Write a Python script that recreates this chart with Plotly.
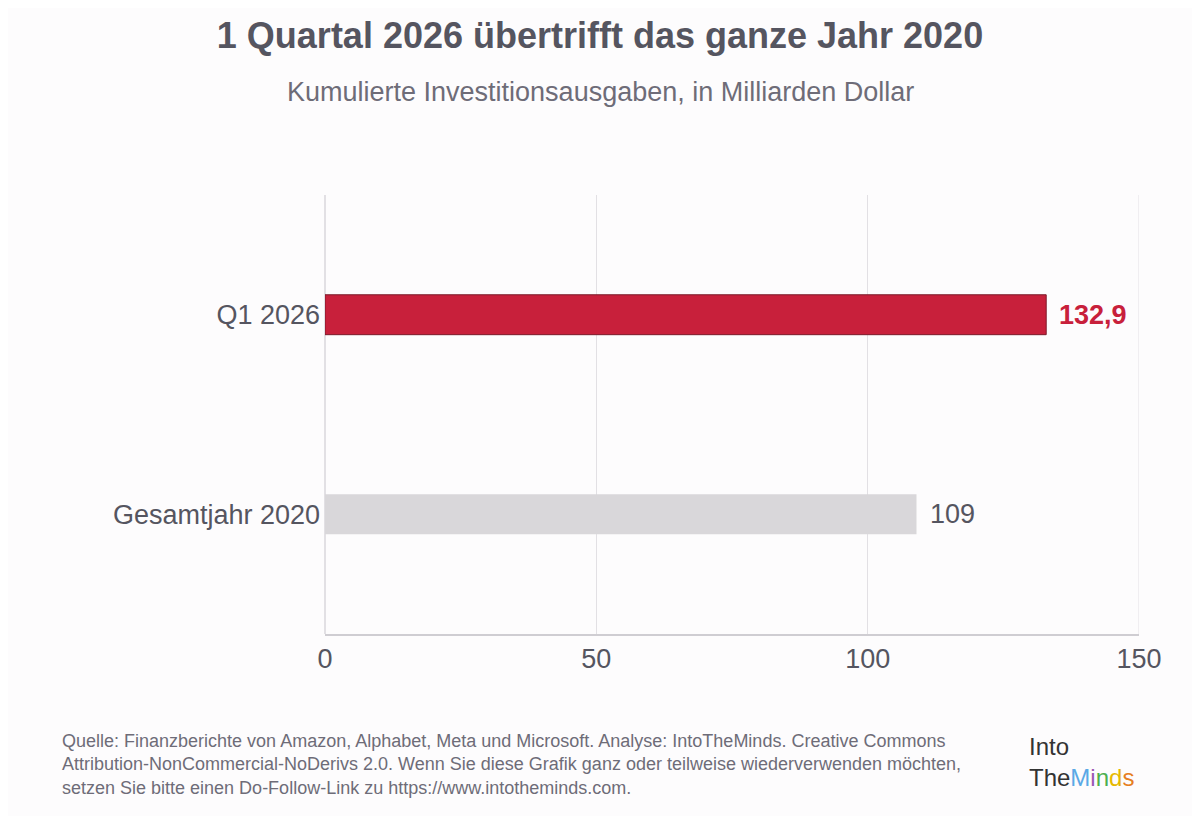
import plotly.graph_objects as go

categories = ["Gesamtjahr 2020", "Q1 2026"]
values = [109, 132.9]
labels = ["109", "<b>132,9</b>"]
bar_colors = ["#D9D7DA", "#C8203B"]
label_colors = ["#555560", "#C8203B"]

W, H = 1192, 808
L, R, T, B = 317, 61, 187, 182
pw = W - L - R
ph = H - T - B

fig = go.Figure()
fig.add_trace(go.Bar(
    y=categories, x=values, orientation="h",
    marker=dict(color=bar_colors,
                line=dict(color=["rgba(0,0,0,0)", "#7a1a2a"], width=1)),
    width=0.2,
    hoverinfo="skip",
))

# value labels next to the bars
for cat, val, lab, col in zip(categories, values, labels, label_colors):
    fig.add_annotation(x=val, y=cat, text=lab, showarrow=False,
                       xanchor="left", yanchor="middle", xshift=11,
                       font=dict(size=27, color=col))

fig.update_layout(
    width=W, height=H,
    paper_bgcolor="#FDFCFD", plot_bgcolor="#FDFCFD",
    margin=dict(l=L, r=R, t=T, b=B),
    font=dict(family="Liberation Sans", color="#555560"),
    showlegend=False,
    title=dict(text="<b>1 Quartal 2026 übertrifft das ganze Jahr 2020</b>",
               x=592 / W, xanchor="center", y=1 - 27 / H, yanchor="middle",
               font=dict(size=36, color="#555560")),
    xaxis=dict(range=[0, 150], tickvals=[0, 50, 100, 150],
               showgrid=True, gridcolor="#E2E0E4", gridwidth=1,
               zeroline=True, zerolinecolor="#E2E0E4",
               showline=True, linecolor="#CFCDD2", linewidth=2,
               tickfont=dict(size=27, color="#555560"), ticks="",
               ticklabelstandoff=0),
    yaxis=dict(range=[-0.6, 1.6], showgrid=False, ticks="",
               tickfont=dict(size=27, color="#555560"), ticklabelstandoff=4),
)

# grid line at the right edge
fig.add_shape(type="line", xref="x", yref="paper", x0=150, x1=150, y0=0, y1=1,
              line=dict(color="#E2E0E4", width=1), layer="below")

fig.add_annotation(text="Kumulierte Investitionsausgaben, in Milliarden Dollar",
                   x=(592 - L) / pw, y=(H - B - 84) / ph,
                   xref="paper", yref="paper", xanchor="center", yanchor="middle",
                   showarrow=False, font=dict(size=27, color="#6E6C78"))

fig.add_annotation(
    text="Quelle: Finanzberichte von Amazon, Alphabet, Meta und Microsoft. Analyse: IntoTheMinds. Creative Commons<br>"
         "Attribution-NonCommercial-NoDerivs 2.0. Wenn Sie diese Grafik ganz oder teilweise wiederverwenden möchten,<br>"
         "setzen Sie bitte einen Do-Follow-Link zu https://www.intotheminds.com.",
    x=(52 - L) / pw, y=(H - B - 756) / ph, xref="paper", yref="paper",
    xanchor="left", yanchor="middle",
    align="left", showarrow=False, font=dict(size=18, color="#6E6C78"))

# logo as text
fig.add_annotation(
    text="Into<br>The<span style='color:#5aa9e6'>M</span><span style='color:#9b59b6'>i</span>"
         "<span style='color:#4caf50'>n</span><span style='color:#e6b800'>d</span>"
         "<span style='color:#e67e22'>s</span>",
    x=(1019 - L) / pw, y=(H - B - 754) / ph,
    xref="paper", yref="paper", xanchor="left", yanchor="middle", align="left",
    showarrow=False, font=dict(size=24, color="#333333"))

fig.write_html("out.html")
